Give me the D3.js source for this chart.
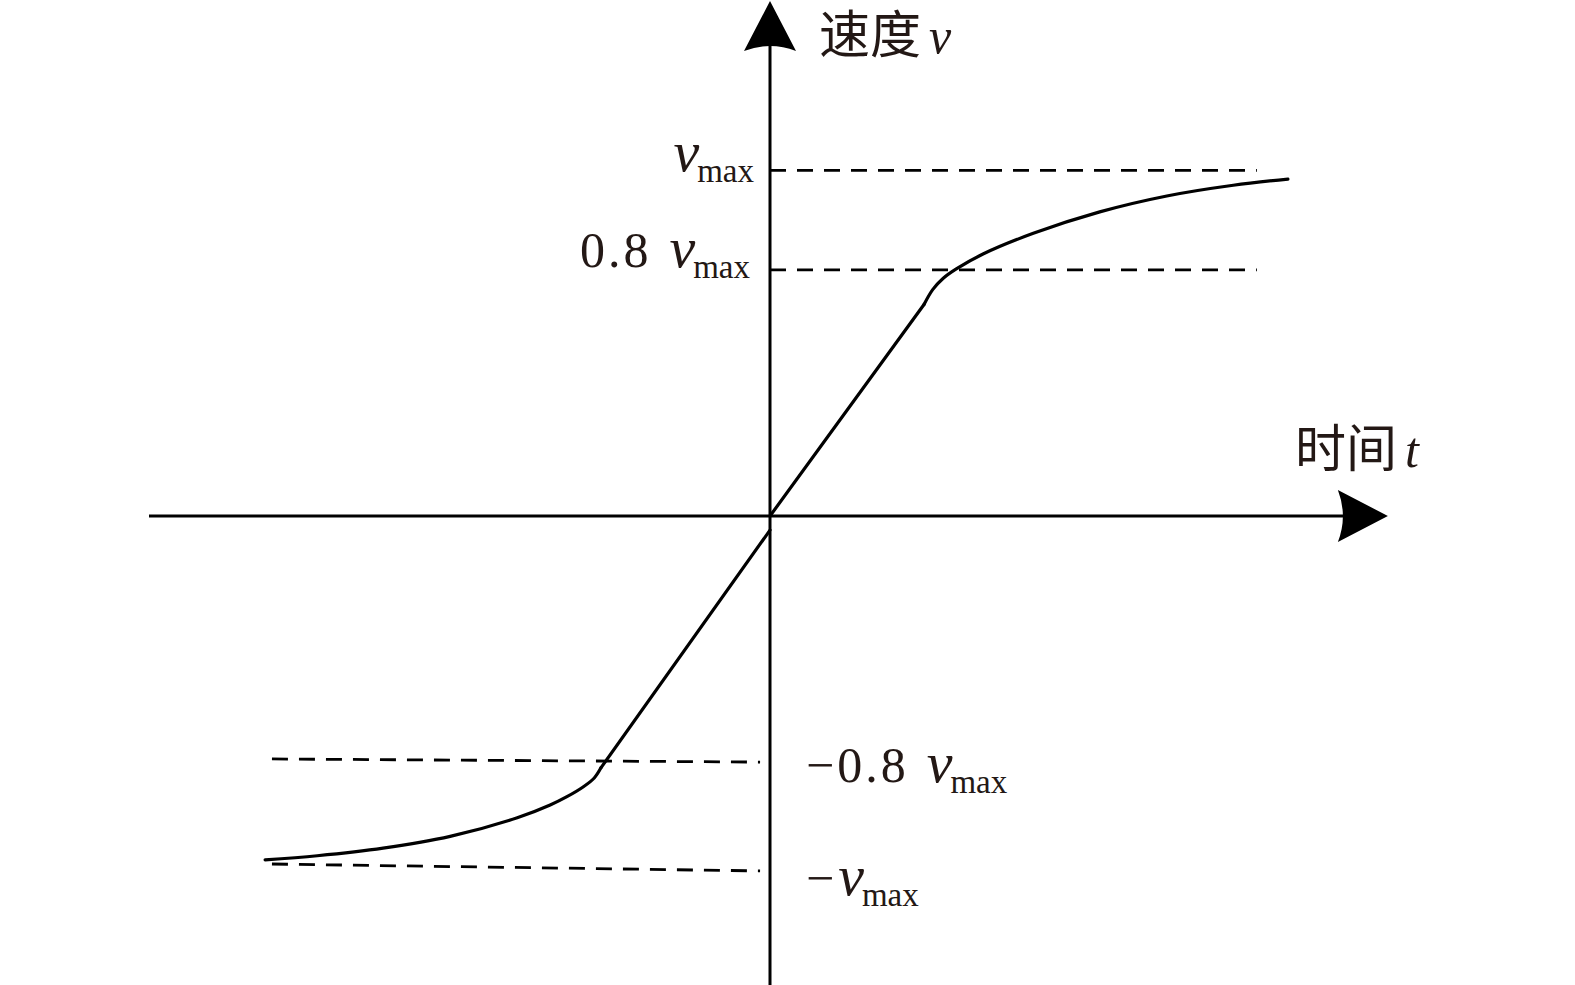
<!DOCTYPE html>
<html>
<head>
<meta charset="utf-8">
<script src="https://cdn.jsdelivr.net/npm/d3@7"></script>
<style>
  body { margin: 0; background: #fff; }
  text { fill: #231815; }
</style>
</head>
<body>
<script>
// speed curve (t, v) in units of vmax; straight part then saturating part
const upperLineT = [0, 0.248];
const upperLineV = [0, 0.612];
const upperCurveT = [0.248, 0.262, 0.279, 0.300, 0.343, 0.424, 0.531, 0.639, 0.746, 0.834];
const upperCurveV = [0.612, 0.655, 0.688, 0.715, 0.758, 0.818, 0.880, 0.926, 0.957, 0.975];

const lowerLineT = [0, -0.272];
const lowerLineV = [-0.041, -0.728];
const lowerCurveT = [-0.272, -0.283, -0.301, -0.327, -0.354, -0.407, -0.515, -0.623, -0.729, -0.813];
const lowerCurveV = [-0.728, -0.758, -0.784, -0.812, -0.836, -0.873, -0.927, -0.961, -0.983, -0.995];

// dashed reference levels
const guideT0 = [0, 0, -0.802, -0.802];
const guideT1 = [0.784, 0.784, -0.016, -0.016];
const guideV0 = [1, 0.712, -0.703, -1.007];
const guideV1 = [1, 0.712, -0.712, -1.027];
const guidePrefix = ['', '0.8', '\u22120.8', '\u2212'];

const tExtent = [-1, 0.995];
const vExtent = [-1.36, 1.49];

const width = 1575;
const height = 985;

const svg = d3.select('body')
    .append('svg')
    .attr('width', width)
    .attr('height', height);

const x = d3.scaleLinear().domain([-1, 1]).range([149, 1391]);
const y = d3.scaleLinear().domain([-1, 1]).range([861.6, 170.4]);

// axes
svg.append('line')
    .attr('x1', x(tExtent[0])).attr('x2', x(tExtent[1]) - 40)
    .attr('y1', y(0)).attr('y2', y(0))
    .attr('stroke', '#000').attr('stroke-width', 3);

svg.append('line')
    .attr('x1', x(0)).attr('x2', x(0))
    .attr('y1', y(vExtent[0])).attr('y2', y(vExtent[1]) + 40)
    .attr('stroke', '#000').attr('stroke-width', 3);

const arrow = 'M0,0 L-50,-26 Q-40,0 -50,26 Z';
svg.append('path')
    .attr('d', arrow)
    .attr('transform', 'translate(' + x(tExtent[1]) + ',' + y(0) + ')')
    .attr('fill', '#000');
svg.append('path')
    .attr('d', arrow)
    .attr('transform', 'translate(' + x(0) + ',' + y(vExtent[1]) + ') rotate(-90)')
    .attr('fill', '#000');

// dashed guides
svg.selectAll('.guide')
    .data(guideV0)
    .enter()
    .append('line')
    .attr('class', 'guide')
    .attr('x1', (d, i) => x(guideT0[i]))
    .attr('x2', (d, i) => x(guideT1[i]))
    .attr('y1', (d, i) => y(guideV0[i]))
    .attr('y2', (d, i) => y(guideV1[i]))
    .attr('stroke', '#000')
    .attr('stroke-width', 2.8)
    .attr('stroke-dasharray', '16,11');

// curve
const straight = d3.line()
    .x(d => x(d[0]))
    .y(d => y(d[1]));
const smooth = d3.line()
    .x(d => x(d[0]))
    .y(d => y(d[1]))
    .curve(d3.curveCatmullRom.alpha(0.5));

[[upperLineT, upperLineV, straight], [upperCurveT, upperCurveV, smooth],
 [lowerLineT, lowerLineV, straight], [lowerCurveT, lowerCurveV, smooth]].forEach(s => {
    svg.append('path')
        .datum(s[0].map((t, i) => [t, s[1][i]]))
        .attr('d', s[2])
        .attr('fill', 'none')
        .attr('stroke', '#000')
        .attr('stroke-width', 3.2)
        .attr('stroke-linecap', 'round');
});

// labels
const cjk = '"Noto Sans CJK SC", sans-serif';
const serif = '"Liberation Serif", "DejaVu Serif", serif';

function axisLabel(px, py, han, sym) {
    const t = svg.append('text')
        .attr('x', px).attr('y', py);
    t.append('tspan')
        .style('font-family', cjk)
        .style('font-size', '51px')
        .text(han);
    t.append('tspan')
        .attr('dx', 8)
        .style('font-family', serif)
        .style('font-style', 'italic')
        .style('font-size', '50px')
        .text(sym);
}
axisLabel(819, 53, '速度', 'v');
axisLabel(1295, 467, '时间', 't');

function levelLabel(px, py, prefix, anchor) {
    const t = svg.append('text')
        .attr('x', px).attr('y', py)
        .attr('text-anchor', anchor)
        .style('font-family', serif);
    if (prefix) {
        t.append('tspan')
            .style('font-size', '50px')
            .style('letter-spacing', prefix.length > 1 ? '3px' : '0px')
            .text(prefix);
    }
    t.append('tspan')
        .attr('dx', prefix.length > 1 ? 18 : 4)
        .style('font-size', '58px')
        .style('font-style', 'italic')
        .text('v');
    t.append('tspan')
        .attr('dx', -2)
        .attr('dy', 11)
        .style('font-size', '33px')
        .text('max');
}
levelLabel(750, y(guideV0[0]) + 1, guidePrefix[0], 'end');
levelLabel(750, y(guideV0[1]) - 3, guidePrefix[1], 'end');
levelLabel(806, y(guideV1[2]) + 20, guidePrefix[2], 'start');
levelLabel(806, y(guideV1[3]) + 24, guidePrefix[3], 'start');
</script>
</body>
</html>
